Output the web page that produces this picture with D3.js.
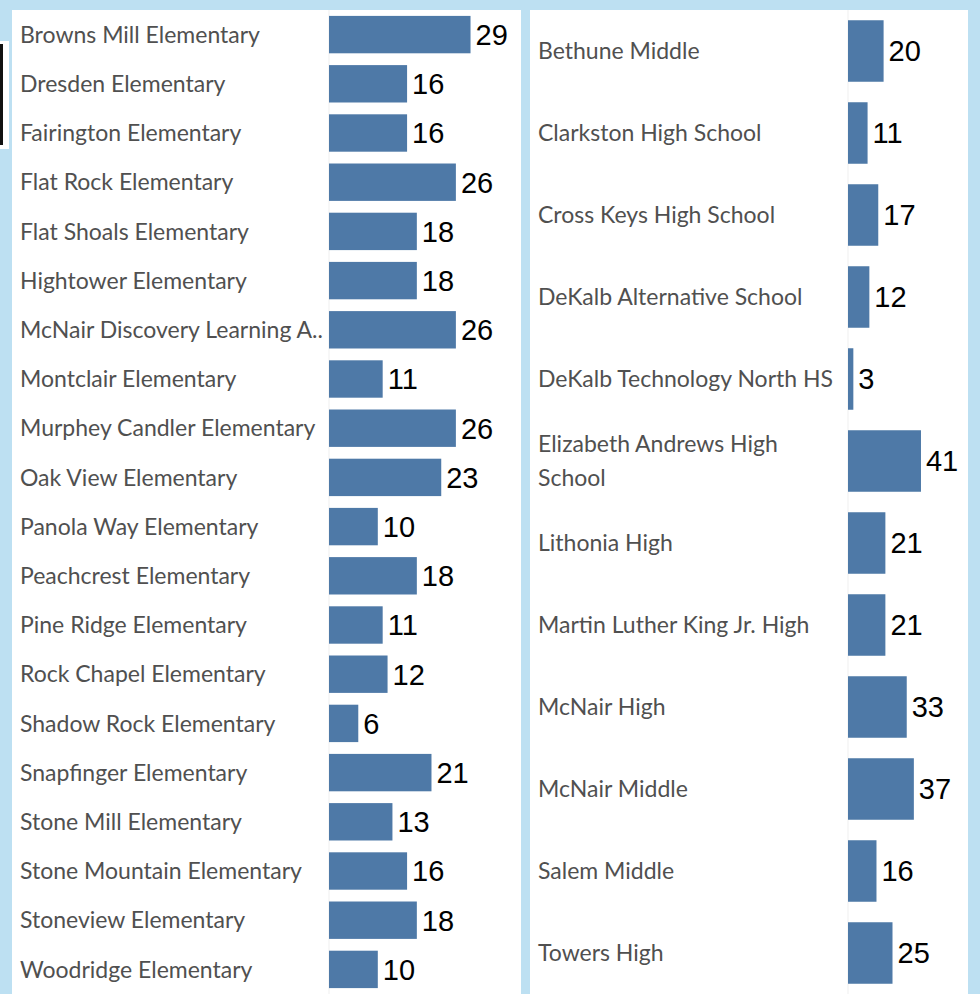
<!DOCTYPE html>
<html>
<head>
<meta charset="utf-8">
<script src="https://cdn.jsdelivr.net/npm/d3@7"></script>
<style>
  html, body { margin: 0; padding: 0; background: #bde0f2; }
  svg { display: block; }
</style>
</head>
<body>
<div id="chart"></div>
<script>
// left panel: elementary schools
const elemSchools = [
  "Browns Mill Elementary", "Dresden Elementary", "Fairington Elementary",
  "Flat Rock Elementary", "Flat Shoals Elementary", "Hightower Elementary",
  "McNair Discovery Learning Academy", "Montclair Elementary",
  "Murphey Candler Elementary", "Oak View Elementary", "Panola Way Elementary",
  "Peachcrest Elementary", "Pine Ridge Elementary", "Rock Chapel Elementary",
  "Shadow Rock Elementary", "Snapfinger Elementary", "Stone Mill Elementary",
  "Stone Mountain Elementary", "Stoneview Elementary", "Woodridge Elementary"
];
const elemValues = [29, 16, 16, 26, 18, 18, 26, 11, 26, 23, 10, 18, 11, 12, 6, 21, 13, 16, 18, 10];

// right panel: middle / high schools
const upperSchools = [
  "Bethune Middle", "Clarkston High School", "Cross Keys High School",
  "DeKalb Alternative School", "DeKalb Technology North HS",
  "Elizabeth Andrews High School", "Lithonia High",
  "Martin Luther King Jr. High", "McNair High", "McNair Middle",
  "Salem Middle", "Towers High"
];
const upperValues = [20, 11, 17, 12, 3, 41, 21, 21, 33, 37, 16, 25];

const W = 980, H = 994;
const barColor = "#4e79a7";
const labelFont = "Lato, 'Open Sans', sans-serif";
const valueFont = "'Liberation Sans Narrow', 'Liberation Sans', sans-serif";

const svg = d3.select("#chart")
  .append("svg")
    .attr("width", W)
    .attr("height", H);

// background frame
svg.append("rect")
  .attr("width", W).attr("height", H)
  .attr("fill", "#bde0f2");

// little dark artifact on the left edge
svg.append("rect").attr("x", 0).attr("y", 41).attr("width", 9).attr("height", 108).attr("fill", "#fff");
svg.append("rect").attr("x", 0).attr("y", 44).attr("width", 3).attr("height", 101).attr("fill", "#111");

function drawPanel(cfg) {
  const g = svg.append("g");

  // white panel
  g.append("rect")
    .attr("x", cfg.left).attr("y", cfg.top)
    .attr("width", cfg.right - cfg.left)
    .attr("height", H - cfg.top)
    .attr("fill", "#fff");

  const y = d3.scaleBand()
    .domain(cfg.names)
    .range([cfg.top, H])
    .paddingInner(cfg.pad)
    .paddingOuter(cfg.pad / 2);

  const x = d3.scaleLinear()
    .domain([0, d3.max(cfg.values)])
    .range([cfg.axisX, cfg.axisX + cfg.pxPerUnit * d3.max(cfg.values)]);

  // faint zero line
  g.append("line")
    .attr("x1", x(0)).attr("x2", x(0))
    .attr("y1", cfg.top).attr("y2", H)
    .attr("stroke", "#efefef")
    .attr("stroke-width", 1);

  const rows = g.selectAll(".row")
    .data(cfg.names.map((n, i) => ({ name: n, value: cfg.values[i] })))
    .join("g")
      .attr("class", "row");

  rows.append("rect")
    .attr("x", x(0))
    .attr("y", d => y(d.name))
    .attr("width", d => x(d.value) - x(0))
    .attr("height", y.bandwidth())
    .attr("fill", barColor);

  rows.append("text")
    .attr("x", d => x(d.value) + 5)
    .attr("y", d => y(d.name) + y.bandwidth() / 2)
    .attr("dy", "0.36em")
    .style("font-family", valueFont)
    .style("font-stretch", "condensed")
    .style("font-size", "29px")
    .attr("fill", "#000")
    .text(d => d.value);

  // category labels (wrap or truncate to fit)
  rows.each(function(d) {
    const t = d3.select(this).append("text")
      .attr("x", cfg.labelX)
      .style("font-family", labelFont)
      .style("font-size", cfg.fontSize + "px")
      .attr("fill", "#505050");
    const cy = y(d.name) + y.bandwidth() / 2;
    t.text(d.name);
    if (t.node().getComputedTextLength() <= cfg.maxLabel) {
      t.attr("y", cy).attr("dy", "0.36em");
      return;
    }
    if (cfg.wrap) {
      const words = d.name.split(" ");
      let line1 = [];
      t.text("");
      const probe = t.append("tspan");
      for (const w of words) {
        probe.text(line1.concat(w).join(" "));
        if (probe.node().getComputedTextLength() > cfg.maxLabel) break;
        line1.push(w);
      }
      probe.remove();
      const line2 = words.slice(line1.length).join(" ");
      t.append("tspan").attr("x", cfg.labelX).attr("y", cy - cfg.lineH / 2).attr("dy", "0.36em").text(line1.join(" "));
      t.append("tspan").attr("x", cfg.labelX).attr("y", cy + cfg.lineH / 2).attr("dy", "0.36em").text(line2);
    } else {
      let s = d.name;
      while (s.length > 1) {
        s = s.slice(0, -1);
        t.text(s.trimEnd() + "..");
        if (t.node().getComputedTextLength() <= cfg.maxLabel) break;
      }
      t.attr("y", cy).attr("dy", "0.36em");
    }
  });
}

drawPanel({
  names: elemSchools, values: elemValues,
  left: 12, right: 521, top: 10,
  axisX: 329, pxPerUnit: 4.88,
  pad: 0.24, labelX: 20, maxLabel: 305, fontSize: 23, wrap: false
});

drawPanel({
  names: upperSchools, values: upperValues,
  left: 530, right: 968, top: 10,
  axisX: 848, pxPerUnit: 1.78,
  pad: 0.25, labelX: 538, maxLabel: 304, fontSize: 23, wrap: true, lineH: 34
});
</script>
</body>
</html>
